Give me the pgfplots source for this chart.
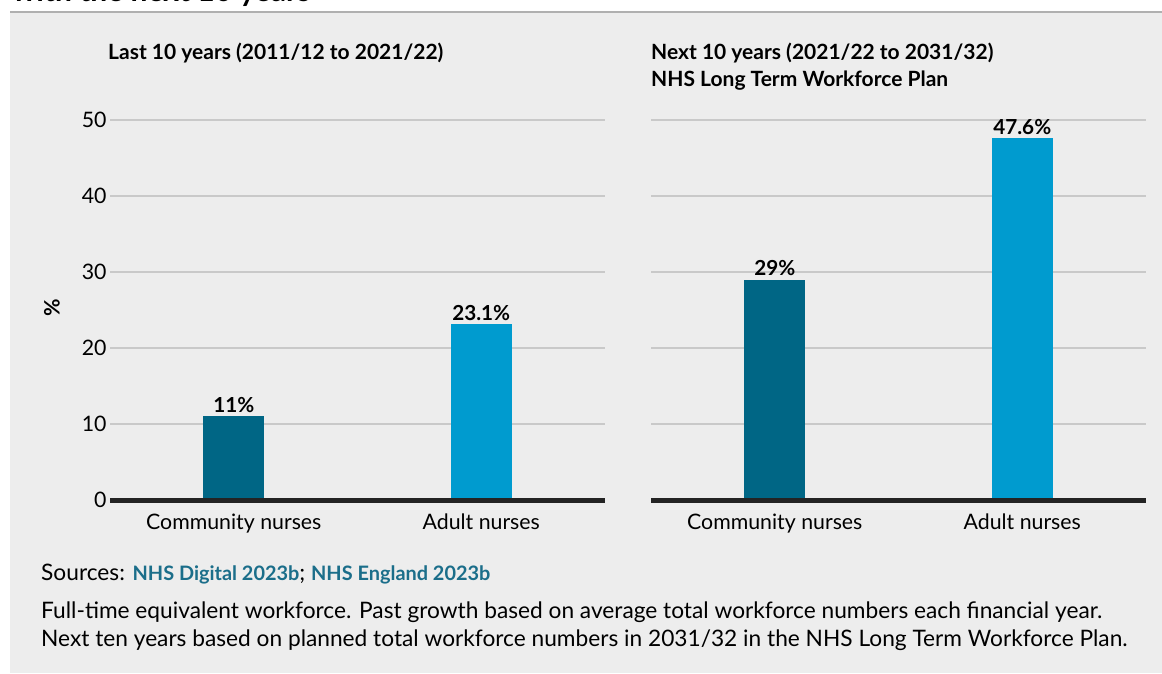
\documentclass[border=0pt]{standalone}
\usepackage{fontspec}
\setmainfont{Lato}
\usepackage{pgfplots}
\pgfplotsset{compat=1.18}
\definecolor{bg}{HTML}{EDEDED}
\definecolor{darkteal}{HTML}{006685}
\definecolor{lightblue}{HTML}{009BCF}
\definecolor{gridc}{HTML}{C9C9C9}
\definecolor{axisc}{HTML}{232323}
\definecolor{linkc}{HTML}{1B6E8A}
\definecolor{topline}{HTML}{B0B0B0}
\newcommand{\fs}{\fontsize{21.3}{25}\selectfont}
\newcommand{\fl}{\fontsize{20.7}{25}\selectfont}
\newcommand{\ft}{\fontsize{21}{25}\selectfont}
\newcommand{\ff}{\fontsize{22.7}{27}\selectfont}
\newcommand{\flink}{\fontsize{19.9}{27}\selectfont}
\pgfplotsset{
  panel/.style={
    scale only axis, width=495pt, height=380pt,
    xmin=-0.5, xmax=1.5, ymin=0, ymax=50,
    clip=false,
    axis line style={draw=none}, tick style={draw=none},
    ytick={0,10,20,30,40,50},
    ymajorgrids, grid style={gridc, line width=1.5pt},
    xtick={0,1}, xticklabels={Community nurses, Adult nurses},
    tick label style={font=\fs, text=black},
    xticklabel style={yshift=-6pt},
    /pgf/number format/assume math mode=true,
    ybar, bar width=61pt, bar shift=0pt,
    nodes near coords, point meta=explicit symbolic,
    every node near coord/.append style={font=\fl\bfseries, text=black},
  }
}
\begin{document}
\begin{tikzpicture}[x=1pt,y=1pt]
\useasboundingbox (0,0) rectangle (1162,673);
\clip (0,0) rectangle (1162,673);
\fill[bg] (10,0) rectangle (1162,661);
\draw[topline, line width=1.5pt] (10,661) -- (1162,661);
\node[anchor=base west, inner sep=0pt, font=\fontsize{30}{34}\selectfont\bfseries] at (12,671) {with the next 10 years};

\begin{axis}[panel, at={(110pt,173pt)}, anchor=south west]
\addplot[fill=darkteal, draw=none] coordinates {(0,11) [11\%]};
\addplot[fill=lightblue, draw=none] coordinates {(1,23.1) [23.1\%]};
\draw[axisc, line width=5pt] (axis cs:-0.5,0) -- (axis cs:1.5,0);
\end{axis}

\begin{axis}[panel, at={(651pt,173pt)}, anchor=south west, yticklabels={}]
\addplot[fill=darkteal, draw=none] coordinates {(0,29) [29\%]};
\addplot[fill=lightblue, draw=none] coordinates {(1,47.6) [47.6\%]};
\draw[axisc, line width=5pt] (axis cs:-0.5,0) -- (axis cs:1.5,0);
\end{axis}

\node[rotate=90, font=\fs\bfseries] at (52,365) {\%};

\node[anchor=base west, inner sep=0pt, font=\ft\bfseries] at (108,613) {Last 10 years (2011/12 to 2021/22)};
\node[anchor=base west, inner sep=0pt, font=\ft\bfseries] at (651,613) {Next 10 years (2021/22 to 2031/32)};
\node[anchor=base west, inner sep=0pt, font=\ft\bfseries] at (651,586) {NHS Long Term Workforce Plan};

\node[anchor=base west, inner sep=0pt, font=\ff] at (41,93) {Sources: \textcolor{linkc}{\flink\bfseries NHS Digital 2023b}; \textcolor{linkc}{\flink\bfseries NHS England 2023b}};
\node[anchor=base west, inner sep=0pt, font=\ff] at (41,55) {Full-time equivalent workforce. Past growth based on average total workforce numbers each financial year.};
\node[anchor=base west, inner sep=0pt, font=\ff] at (41,27) {Next ten years based on planned total workforce numbers in 2031/32 in the NHS Long Term Workforce Plan.};
\end{tikzpicture}
\end{document}
